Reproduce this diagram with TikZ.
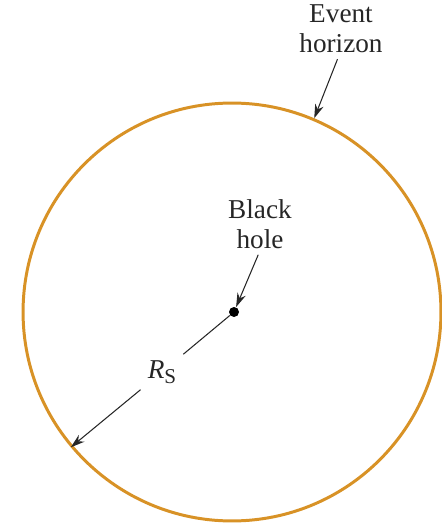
\documentclass[tikz,border=0pt]{standalone}
\usepackage{fontspec}
\setmainfont{Liberation Serif}
\usetikzlibrary{arrows.meta}
\usetikzlibrary{positioning}
\definecolor{horizoncol}{RGB}{216,146,38}

\begin{document}
\begin{tikzpicture}[
  x=0.02cm, y=-0.02cm,
  every node/.style={font=\fontsize{15.5}{17}\selectfont, align=center, text=black!85},
  pointer/.style={-{Stealth[length=8pt, width=5pt]}, line width=0.6pt, black!85},
]
\useasboundingbox (0,0) rectangle (441,526);

% Event horizon and black hole
\node[circle, draw=horizoncol, line width=1.7pt, minimum size=8.36cm, inner sep=0pt] (horizon) at (232,312) {};
\node[circle, fill=black, minimum size=0.2cm, inner sep=0pt] (hole) at (234,312) {};

% Labels
\node (evlabel) at (341,29) {Event\\horizon};
\node (bhlabel) at (260,224) {Black\\hole};
\node[circle, minimum size=1.1cm, inner sep=0pt] (rs) at (162,372) {\textit{R}\raisebox{-2.5pt}{\fontsize{12}{12}\selectfont S}};

% Pointers
\draw[pointer] ([xshift=-2pt]evlabel.south) -- (horizon.67);
\draw[pointer] ([xshift=-1pt]bhlabel.south) -- (hole);
\draw[line width=0.6pt, black!85] (hole) -- (rs);
\draw[pointer] (rs) -- (horizon.220);

\end{tikzpicture}
\end{document}
